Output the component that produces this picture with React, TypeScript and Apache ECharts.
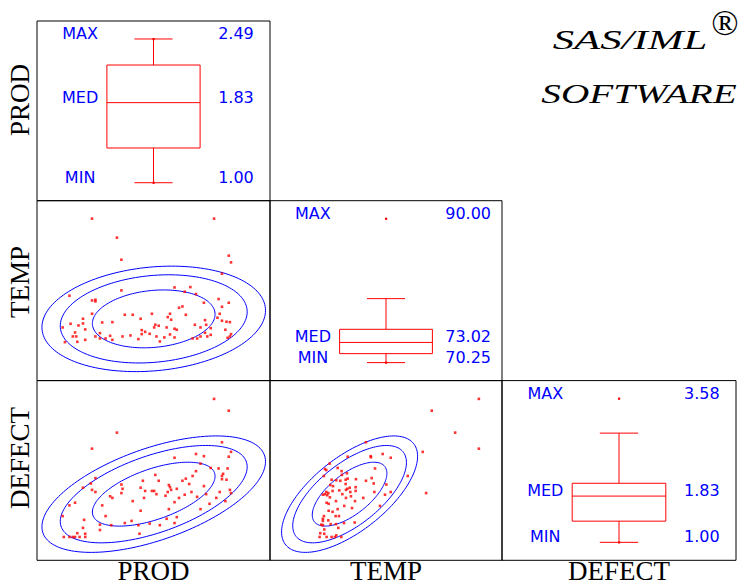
import React, { useEffect, useRef } from "react";
import * as echarts from "echarts";

const variables = ["PROD", "TEMP", "DEFECT"];

// Box-plot summaries (per variable)
const boxMin = [1.0, 70.25, 1.0];
const boxQ1 = [1.36, 71.48, 1.38];
const boxMedian = [1.83, 73.02, 1.83];
const boxQ3 = [2.22, 74.82, 2.06];
const boxUpperWhisker = [2.49, 79.03, 2.96];
const boxMax = [2.49, 90.0, 3.58];
const boxLabels = ["MAX", "MED", "MIN"];

// Bivariate normal summaries used for the prediction ellipses
const means = [1.806, 73.97, 1.8];
const stdDevs = [0.461, 3.93, 0.507];
const corrProdTemp = 0.16;
const corrProdDefect = 0.56;
const corrTempDefect = 0.65;
const ellipseLevels = [0.5, 0.8, 0.9];

// Axis extents of the scatter panels (per variable)
const scatterMin = [0.773, 64.1, 0.564];
const scatterMax = [2.835, 92.87, 3.922];

const prodTemp: number[][] = [
  [1.26, 90.0], [2.34, 90.0], [1.48, 86.96], [2.47, 84.08], [1.52, 83.43], [2.49, 83.01], [2.41, 81.19],
  [1.99, 79.0], [2.13, 79.06], [1.52, 78.52], [2.08, 78.31], [2.18, 77.94], [1.06, 77.67], [1.26, 76.92],
  [1.29, 77.03], [1.29, 76.76], [2.38, 77.14], [2.25, 76.55], [2.47, 76.55], [2.06, 75.96], [2.03, 75.75],
  [2.41, 75.91], [1.26, 74.79], [1.55, 74.63], [1.62, 74.63], [1.79, 74.79], [1.95, 74.79], [2.09, 74.63],
  [2.39, 74.79], [1.69, 73.99], [1.93, 74.25], [1.96, 73.83], [1.18, 73.99], [2.26, 73.77], [2.37, 74.15],
  [2.41, 73.67], [2.45, 73.51], [2.48, 73.45], [1.18, 73.24], [1.07, 73.19], [1.35, 73.4], [1.44, 73.45],
  [1.14, 72.92], [1.82, 73.03], [1.85, 72.87], [2.17, 73.03], [2.27, 73.03], [1.0, 72.6], [1.2, 72.28],
  [1.81, 72.6], [1.92, 72.6], [1.99, 72.39], [2.01, 72.23], [2.22, 72.6], [2.31, 72.49], [2.44, 72.23],
  [1.7, 72.17], [1.73, 71.9], [2.26, 71.74], [1.11, 71.8], [1.33, 71.69], [1.7, 71.53], [1.77, 71.58],
  [1.95, 71.48], [2.31, 71.42], [2.49, 71.53], [1.09, 71.16], [1.12, 71.16], [1.29, 71.16], [1.42, 71.26],
  [1.53, 71.16], [1.6, 71.32], [1.83, 71.16], [1.9, 71.0], [1.99, 71.0], [2.15, 70.84], [2.19, 70.84],
  [2.22, 71.16], [2.28, 71.16], [2.46, 70.94], [1.2, 70.62], [1.33, 70.84], [1.38, 70.84], [1.44, 70.62],
  [1.67, 70.73], [1.02, 70.25], [1.13, 70.3], [1.86, 70.36], [2.48, 71.16],
];

const prodDefect: number[][] = [
  [2.34, 3.58], [2.47, 3.36], [1.48, 2.95], [1.26, 2.65], [2.41, 2.77], [2.49, 2.59], [1.99, 2.48],
  [2.18, 2.55], [2.25, 2.51], [2.47, 2.5], [2.22, 2.37], [2.31, 2.29], [2.38, 2.28], [2.46, 2.28],
  [2.18, 2.23], [2.09, 2.09], [2.15, 2.14], [2.42, 2.18], [2.41, 2.14], [2.45, 2.07], [2.41, 2.08],
  [1.29, 2.1], [1.82, 2.16], [1.71, 2.05], [1.85, 2.05], [2.06, 2.05], [2.12, 1.99], [2.25, 1.95],
  [1.94, 1.97], [1.95, 1.93], [1.25, 2.0], [1.52, 1.98], [1.53, 1.9], [1.18, 1.92], [1.69, 1.92],
  [1.73, 1.86], [1.79, 1.86], [1.81, 1.86], [1.96, 1.88], [1.83, 1.8], [1.93, 1.84], [1.91, 1.77],
  [2.01, 1.9], [2.14, 1.84], [2.27, 1.8], [2.39, 1.84], [2.48, 1.88], [2.49, 1.82], [1.29, 1.84],
  [1.26, 1.88], [1.42, 1.76], [1.44, 1.73], [1.52, 1.82], [1.72, 1.73], [2.03, 1.73], [2.08, 1.79],
  [2.19, 1.75], [2.36, 1.73], [1.62, 1.67], [1.99, 1.65], [2.3, 1.62], [2.44, 1.67], [1.11, 1.64],
  [1.06, 1.59], [1.35, 1.59], [1.94, 1.52], [1.69, 1.49], [2.22, 1.52], [1.0, 1.39], [1.38, 1.39],
  [2.01, 1.37], [1.19, 1.32], [1.33, 1.23], [1.43, 1.22], [1.55, 1.26], [1.61, 1.3], [1.67, 1.22],
  [1.77, 1.25], [1.86, 1.22], [1.92, 1.34], [1.99, 1.26], [1.18, 1.17], [1.33, 1.13], [1.13, 1.07],
  [1.2, 1.06], [1.68, 1.06], [1.01, 1.0], [1.06, 1.0], [1.09, 1.0], [1.11, 1.0], [1.15, 1.0], [1.2, 1.0],
];

const tempDefect: number[][] = [
  [90.0, 3.58], [84.16, 3.36], [87.06, 2.95], [90.0, 2.65], [76.0, 2.77], [83.04, 2.59], [78.07, 2.55],
  [79.07, 2.48], [76.58, 2.51], [76.62, 2.49], [73.73, 2.5], [71.49, 2.37], [70.91, 2.27], [71.08, 2.25],
  [72.49, 2.29], [72.98, 2.23], [70.79, 2.14], [73.64, 2.19], [73.02, 2.16], [81.18, 2.14], [77.12, 2.28],
  [76.71, 2.1], [76.0, 2.05], [74.76, 2.08], [73.73, 2.09], [73.48, 2.07], [72.82, 2.05], [72.32, 2.06],
  [71.74, 2.07], [76.96, 2.0], [78.53, 1.98], [73.48, 1.99], [71.57, 1.97], [71.91, 1.95], [74.72, 1.93],
  [73.69, 1.9], [73.98, 1.92], [73.52, 1.88], [72.69, 1.87], [71.86, 1.86], [71.08, 1.84], [70.91, 1.8],
  [71.33, 1.82], [71.2, 1.78], [70.66, 1.79], [71.53, 1.74], [73.07, 1.8], [74.06, 1.84], [74.72, 1.86],
  [77.04, 1.84], [78.36, 1.79], [79.07, 1.84], [83.46, 1.82], [74.14, 1.76], [73.52, 1.73], [75.67, 1.73],
  [72.28, 1.67], [74.64, 1.67], [71.12, 1.64], [71.37, 1.62], [73.31, 1.58], [74.27, 1.54], [77.74, 1.58],
  [71.37, 1.49], [71.86, 1.47], [72.49, 1.52], [70.79, 1.39], [72.24, 1.39], [72.65, 1.39], [71.33, 1.31],
  [70.66, 1.34], [70.66, 1.3], [71.62, 1.24], [70.46, 1.23], [73.27, 1.26], [74.6, 1.27], [70.83, 1.14],
  [72.57, 1.17], [70.33, 1.07], [70.83, 1.06], [70.25, 1.0], [71.12, 1.0], [71.74, 1.0], [72.15, 1.0],
  [72.32, 1.03], [72.94, 1.0], [72.28, 1.24], [70.66, 1.22],
];

// ---- layout / style ----
const W = 749;
const H = 586;
const colEdges = [37, 270, 502, 736];
const rowEdges = [21, 200.7, 380.6, 560.3];
const RED = "#ff0000";
const BLUE = "#0000ff";
const SERIF = '"Liberation Serif", "Times New Roman", serif';
const SANS = '"DejaVu Sans", sans-serif';

function corrOf(a: number, b: number) {
  const key = [a, b].sort().join("-");
  if (key === "0-1") return corrProdTemp;
  if (key === "0-2") return corrProdDefect;
  return corrTempDefect;
}

function buildOption() {
  const grid: any[] = [];
  const xAxis: any[] = [];
  const yAxis: any[] = [];
  const series: any[] = [];
  const pairData: Record<string, number[][]> = {
    "1-0": prodTemp,
    "2-0": prodDefect,
    "2-1": tempDefect,
  };

  let gi = 0;
  for (let r = 0; r < 3; r++) {
    for (let c = 0; c <= r; c++) {
      grid.push({
        left: colEdges[c],
        top: rowEdges[r],
        width: colEdges[c + 1] - colEdges[c],
        height: rowEdges[r + 1] - rowEdges[r],
        show: true,
        borderColor: "#000",
        borderWidth: 1,
        backgroundColor: "transparent",
        containLabel: false,
      });
      if (r === c) {
        const k = r;
        const pad = (boxMax[k] - boxMin[k]) * 0.125;
        xAxis.push({ gridIndex: gi, type: "value", min: 0, max: 1, show: false });
        yAxis.push({ gridIndex: gi, type: "value", min: boxMin[k] - pad, max: boxMax[k] + pad, show: false });
        series.push({
          type: "custom",
          coordinateSystem: "cartesian2d",
          xAxisIndex: gi,
          yAxisIndex: gi,
          silent: true,
          clip: false,
          data: [[0.5, boxMedian[k]]],
          renderItem: (_p: any, api: any) => {
            const pt = (x: number, v: number) => api.coord([x, v]);
            const lineStyle = { stroke: RED, lineWidth: 1, fill: null };
            const line = (a: number[], b: number[]) => ({
              type: "line",
              shape: { x1: a[0], y1: a[1], x2: b[0], y2: b[1] },
              style: lineStyle,
            });
            const q3 = pt(0.3, boxQ3[k]);
            const q1 = pt(0.7, boxQ1[k]);
            const children: any[] = [
              {
                type: "rect",
                shape: { x: q3[0], y: q3[1], width: q1[0] - q3[0], height: q1[1] - q3[1] },
                style: { stroke: RED, lineWidth: 1, fill: "none" },
              },
              line(pt(0.3, boxMedian[k]), pt(0.7, boxMedian[k])),
              line(pt(0.5, boxQ3[k]), pt(0.5, boxUpperWhisker[k])),
              line(pt(0.5, boxQ1[k]), pt(0.5, boxMin[k])),
              line(pt(0.418, boxUpperWhisker[k]), pt(0.582, boxUpperWhisker[k])),
              line(pt(0.418, boxMin[k]), pt(0.582, boxMin[k])),
            ];
            [boxMax[k], boxMin[k]].forEach((v) => {
              const p = pt(0.5, v);
              children.push({
                type: "rect",
                shape: { x: p[0] - 1, y: p[1] - 1, width: 2.2, height: 2.2 },
                style: { fill: RED },
              });
            });
            const vals = [boxMax[k], boxMedian[k], boxMin[k]];
            vals.forEach((v, i) => {
              const lp = pt(0.185, v);
              const vp = pt(0.854, v);
              children.push({
                type: "text",
                x: lp[0],
                y: lp[1] - 5.5,
                style: {
                  text: boxLabels[i],
                  fill: BLUE,
                  fontSize: 16,
                  fontFamily: SANS,
                  align: "center",
                  verticalAlign: "middle",
                },
              });
              children.push({
                type: "text",
                x: vp[0],
                y: vp[1] - 5.5,
                style: {
                  text: v.toFixed(2),
                  fill: BLUE,
                  fontSize: 16,
                  fontFamily: SANS,
                  align: "center",
                  verticalAlign: "middle",
                },
              });
            });
            return { type: "group", children };
          },
        });
      } else {
        const xi = c;
        const yi = r;
        xAxis.push({ gridIndex: gi, type: "value", min: scatterMin[xi], max: scatterMax[xi], show: false });
        yAxis.push({ gridIndex: gi, type: "value", min: scatterMin[yi], max: scatterMax[yi], show: false });
        const rho = corrOf(xi, yi);
        series.push({
          type: "custom",
          coordinateSystem: "cartesian2d",
          xAxisIndex: gi,
          yAxisIndex: gi,
          silent: true,
          clip: false,
          data: ellipseLevels.map((lv) => [means[xi], means[yi], lv]),
          renderItem: (_p: any, api: any) => {
            const lv = api.value(2);
            const cst = Math.sqrt(-2 * Math.log(1 - lv));
            const pts: number[][] = [];
            const n = 160;
            for (let i = 0; i < n; i++) {
              const t = (i / n) * Math.PI * 2;
              const x = means[xi] + cst * stdDevs[xi] * Math.cos(t);
              const y =
                means[yi] +
                cst * stdDevs[yi] * (rho * Math.cos(t) + Math.sqrt(1 - rho * rho) * Math.sin(t));
              pts.push(api.coord([x, y]));
            }
            return {
              type: "polygon",
              shape: { points: pts },
              style: { fill: "none", stroke: BLUE, lineWidth: 1 },
            };
          },
        });
        series.push({
          type: "scatter",
          xAxisIndex: gi,
          yAxisIndex: gi,
          symbol: "rect",
          symbolSize: 2.6,
          silent: true,
          itemStyle: { color: RED },
          data: pairData[`${r}-${c}`],
        });
      }
      gi++;
    }
  }

  const graphic: any[] = [];
  for (let i = 0; i < 3; i++) {
    graphic.push({
      type: "text",
      x: (colEdges[i] + colEdges[i + 1]) / 2,
      y: 570.5,
      style: { text: variables[i], fill: "#000", fontSize: 27, fontFamily: SERIF, align: "center", verticalAlign: "middle" },
    });
  }
  const leftY = [100, 282, 458];
  for (let i = 0; i < 3; i++) {
    graphic.push({
      type: "text",
      x: 20,
      y: leftY[i],
      rotation: Math.PI / 2,
      style: { text: variables[i], fill: "#000", fontSize: 27, fontFamily: SERIF, align: "center", verticalAlign: "middle" },
    });
  }
  graphic.push({
    type: "text",
    x: 630,
    y: 40,
    scaleX: 1.53,
    style: { text: "SAS/IML", fill: "#000", fontSize: 28, fontStyle: "italic", fontFamily: SERIF, align: "center", verticalAlign: "middle" },
  });
  graphic.push({
    type: "text",
    x: 725,
    y: 23,
    style: { text: "®", fill: "#000", fontSize: 36, fontFamily: SERIF, align: "center", verticalAlign: "middle" },
  });
  graphic.push({
    type: "text",
    x: 639,
    y: 94,
    scaleX: 1.4,
    style: { text: "SOFTWARE", fill: "#000", fontSize: 28, fontStyle: "italic", fontFamily: SERIF, align: "center", verticalAlign: "middle" },
  });

  return {
    animation: false,
    backgroundColor: "#ffffff",
    grid,
    xAxis,
    yAxis,
    series,
    graphic,
  };
}

export default function App() {
  const ref = useRef<HTMLDivElement>(null);
  useEffect(() => {
    if (!ref.current) return;
    const chart = echarts.init(ref.current, undefined, { renderer: "svg", width: W, height: H });
    chart.setOption(buildOption() as any);
    return () => chart.dispose();
  }, []);
  return (
    <div
      ref={ref}
      style={{ position: "fixed", left: 0, top: 0, width: W, height: H, background: "#fff" }}
    />
  );
}
